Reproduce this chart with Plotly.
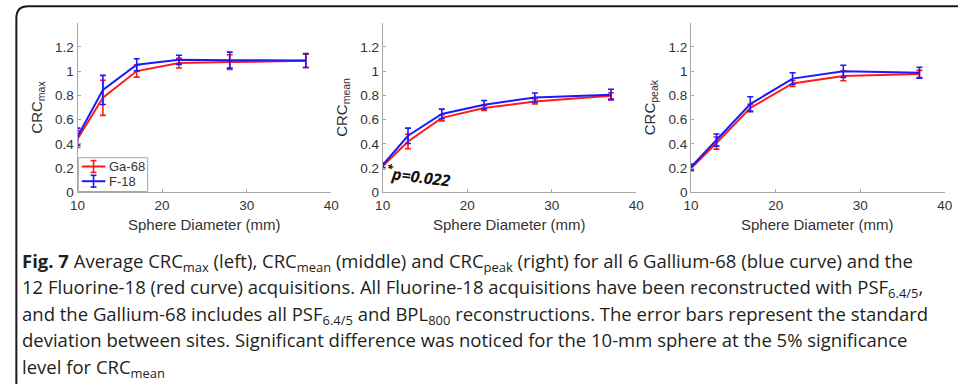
import plotly.graph_objects as go

# Sphere diameters (mm)
diameters = [10, 13, 17, 22, 28, 37]

# CRC_max
ga_max = [0.44, 0.78, 1.00, 1.066, 1.074, 1.085]
ga_max_sd = [0.07, 0.145, 0.05, 0.04, 0.06, 0.055]
f_max = [0.46, 0.845, 1.052, 1.093, 1.09, 1.087]
f_max_sd = [0.07, 0.12, 0.05, 0.038, 0.066, 0.058]

# CRC_mean
ga_mean = [0.215, 0.42, 0.615, 0.696, 0.75, 0.796]
ga_mean_sd = [0.02, 0.06, 0.025, 0.02, 0.02, 0.025]
f_mean = [0.225, 0.467, 0.647, 0.723, 0.782, 0.806]
f_mean_sd = [0.02, 0.063, 0.04, 0.035, 0.037, 0.044]

# CRC_peak
ga_peak = [0.20, 0.407, 0.696, 0.898, 0.96, 0.976]
ga_peak_sd = [0.02, 0.05, 0.03, 0.025, 0.04, 0.03]
f_peak = [0.21, 0.432, 0.728, 0.938, 0.998, 0.987]
f_peak_sd = [0.025, 0.05, 0.06, 0.048, 0.05, 0.045]

y_titles = ["CRC<sub>max</sub>", "CRC<sub>mean</sub>", "CRC<sub>peak</sub>"]
x_title = "Sphere Diameter (mm)"
x_ticks = [10, 20, 30, 40]
y_ticks = [0, 0.2, 0.4, 0.6, 0.8, 1, 1.2]
y_ticklabels = ["0", "0.2", "0.4", "0.6", "0.8", "1", "1.2"]
legend_names = ["Ga-68", "F-18"]
series_colors = ["#ff1a1a", "#1a1aff"]

W, H = 958, 390
RED, BLUE = series_colors
AXIS_GRAY = "#a6a6a6"
TEXT_GRAY = "#333333"
PLOT_FONT = "Liberation Sans, Arial, sans-serif"
CAP_FONT = "Open Sans, sans-serif"


def px_x(p):
    return p / W


def px_y(p):
    return 1 - p / H


panel_left = [70.7, 381.0, 694.7]
panel_w = 258.0
plot_top, plot_bottom = 23.0, 196.5

fig = go.Figure()

panels = [
    (ga_max, ga_max_sd, f_max, f_max_sd),
    (ga_mean, ga_mean_sd, f_mean, f_mean_sd),
    (ga_peak, ga_peak_sd, f_peak, f_peak_sd),
]

for i, (ga, ga_sd, f, f_sd) in enumerate(panels):
    xa = "x" if i == 0 else f"x{i + 1}"
    ya = "y" if i == 0 else f"y{i + 1}"
    for vals, sd, color, name in [(ga, ga_sd, RED, legend_names[0]),
                                  (f, f_sd, BLUE, legend_names[1])]:
        fig.add_trace(go.Scatter(
            x=diameters, y=vals, mode="lines", name=name,
            line=dict(color=color, width=2),
            error_y=dict(type="data", array=sd, visible=True,
                         color=color, thickness=1.6, width=3),
            xaxis=xa, yaxis=ya, showlegend=False,
        ))

axis_common = dict(
    showline=True, linecolor=AXIS_GRAY, linewidth=1,
    ticks="inside", ticklen=3, tickcolor=AXIS_GRAY, tickwidth=1,
    showgrid=False, zeroline=False, mirror=False,
    tickfont=dict(family=PLOT_FONT, size=13.5, color=TEXT_GRAY),
)

layout_axes = {}
for i in range(3):
    sfx = "" if i == 0 else str(i + 1)
    x0 = panel_left[i]
    layout_axes[f"xaxis{sfx}"] = dict(
        domain=[px_x(x0), px_x(x0 + panel_w)],
        range=[10, 40], tickvals=x_ticks, anchor=f"y{sfx}",
        **axis_common,
    )
    layout_axes[f"yaxis{sfx}"] = dict(
        domain=[px_y(plot_bottom), px_y(plot_top)],
        range=[0, 1.4], tickvals=y_ticks, ticktext=y_ticklabels,
        anchor=f"x{sfx}",
        **axis_common,
    )

annotations = []
for i in range(3):
    x0 = panel_left[i]
    annotations.append(dict(
        x=px_x(x0 + panel_w / 2), y=px_y(229), xref="paper", yref="paper",
        text=x_title, showarrow=False, xanchor="center", yanchor="middle",
        font=dict(family=PLOT_FONT, size=15, color=TEXT_GRAY),
    ))
    annotations.append(dict(
        x=px_x(x0 - 41), y=px_y((plot_top + plot_bottom) / 2),
        xref="paper", yref="paper", text=y_titles[i], textangle=-90,
        showarrow=False, xanchor="center", yanchor="middle",
        font=dict(family=PLOT_FONT, size=15, color=TEXT_GRAY),
    ))

# significance label on the middle panel
annotations.append(dict(
    x=px_x(417), y=px_y(180), xref="paper", yref="paper",
    text="<b><i><sup>*</sup>p=0.022</i></b>", textangle=7,
    showarrow=False, xanchor="center", yanchor="middle",
    font=dict(family=CAP_FONT, size=16, color="#111111"),
))

# caption
caption_lines = [
    "<b>Fig. 7</b> Average CRC<sub>max</sub> (left), CRC<sub>mean</sub> (middle) and "
    "CRC<sub>peak</sub> (right) for all 6 Gallium-68 (blue curve) and the",
    "12 Fluorine-18 (red curve) acquisitions. All Fluorine-18 acquisitions have been "
    "reconstructed with PSF<sub>6.4/5</sub>,",
    "and the Gallium-68 includes all PSF<sub>6.4/5</sub> and BPL<sub>800</sub> "
    "reconstructions. The error bars represent the standard",
    "deviation between sites. Significant difference was noticed for the 10-mm sphere "
    "at the 5% significance",
    "level for CRC<sub>mean</sub>",
]
for k, line in enumerate(caption_lines):
    annotations.append(dict(
        x=px_x(12), y=px_y(251 + 27 * k), xref="paper", yref="paper",
        text=line, showarrow=False, xanchor="left", yanchor="top",
        align="left",
        font=dict(family=CAP_FONT, size=18.5, color="#231f20"),
    ))

shapes = []


# legend drawn in the first panel (axis-domain coordinates)
def dx(p):
    return (p - panel_left[0]) / panel_w


def dy(p):
    return (plot_bottom - p) / (plot_bottom - plot_top)


shapes.append(dict(
    type="rect", xref="x domain", yref="y domain",
    x0=dx(71.5), x1=dx(142), y0=dy(195.5), y1=dy(161),
    line=dict(color=AXIS_GRAY, width=1), fillcolor="white", layer="above",
))
for name, color, cy in [(legend_names[0], RED, 170), (legend_names[1], BLUE, 185)]:
    shapes.append(dict(type="line", xref="x domain", yref="y domain",
                       x0=dx(75), x1=dx(99), y0=dy(cy), y1=dy(cy),
                       line=dict(color=color, width=2), layer="above"))
    shapes.append(dict(type="line", xref="x domain", yref="y domain",
                       x0=dx(87), x1=dx(87), y0=dy(cy - 6), y1=dy(cy + 6),
                       line=dict(color=color, width=1.6), layer="above"))
    for cap in (cy - 6, cy + 6):
        shapes.append(dict(type="line", xref="x domain", yref="y domain",
                           x0=dx(84), x1=dx(90), y0=dy(cap), y1=dy(cap),
                           line=dict(color=color, width=1.6), layer="above"))
    annotations.append(dict(
        x=dx(101), y=dy(cy), xref="x domain", yref="y domain", text=name,
        showarrow=False, xanchor="left", yanchor="middle",
        font=dict(family=PLOT_FONT, size=13, color=TEXT_GRAY),
    ))

# rounded frame around the figure panel
bx0, by0, bx1, r = 8.5, 6.5, 975, 12
path = (
    f"M {px_x(bx0)},{px_y(392)} "
    f"L {px_x(bx0)},{px_y(by0 + r)} "
    f"Q {px_x(bx0)},{px_y(by0)} {px_x(bx0 + r)},{px_y(by0)} "
    f"L {px_x(bx1)},{px_y(by0)}"
)
shapes.append(dict(type="path", xref="paper", yref="paper", path=path,
                   line=dict(color="#1a1a1a", width=2)))

fig.update_layout(
    width=W, height=H,
    margin=dict(l=0, r=0, t=0, b=0),
    paper_bgcolor="white", plot_bgcolor="white",
    showlegend=False,
    annotations=annotations,
    shapes=shapes,
    **layout_axes,
)

fig.write_html(
    "out.html", include_plotlyjs=True, full_html=True,
    config={"displayModeBar": False},
    post_script="document.body.style.margin='0';"
                "document.body.style.overflow='hidden';",
)
